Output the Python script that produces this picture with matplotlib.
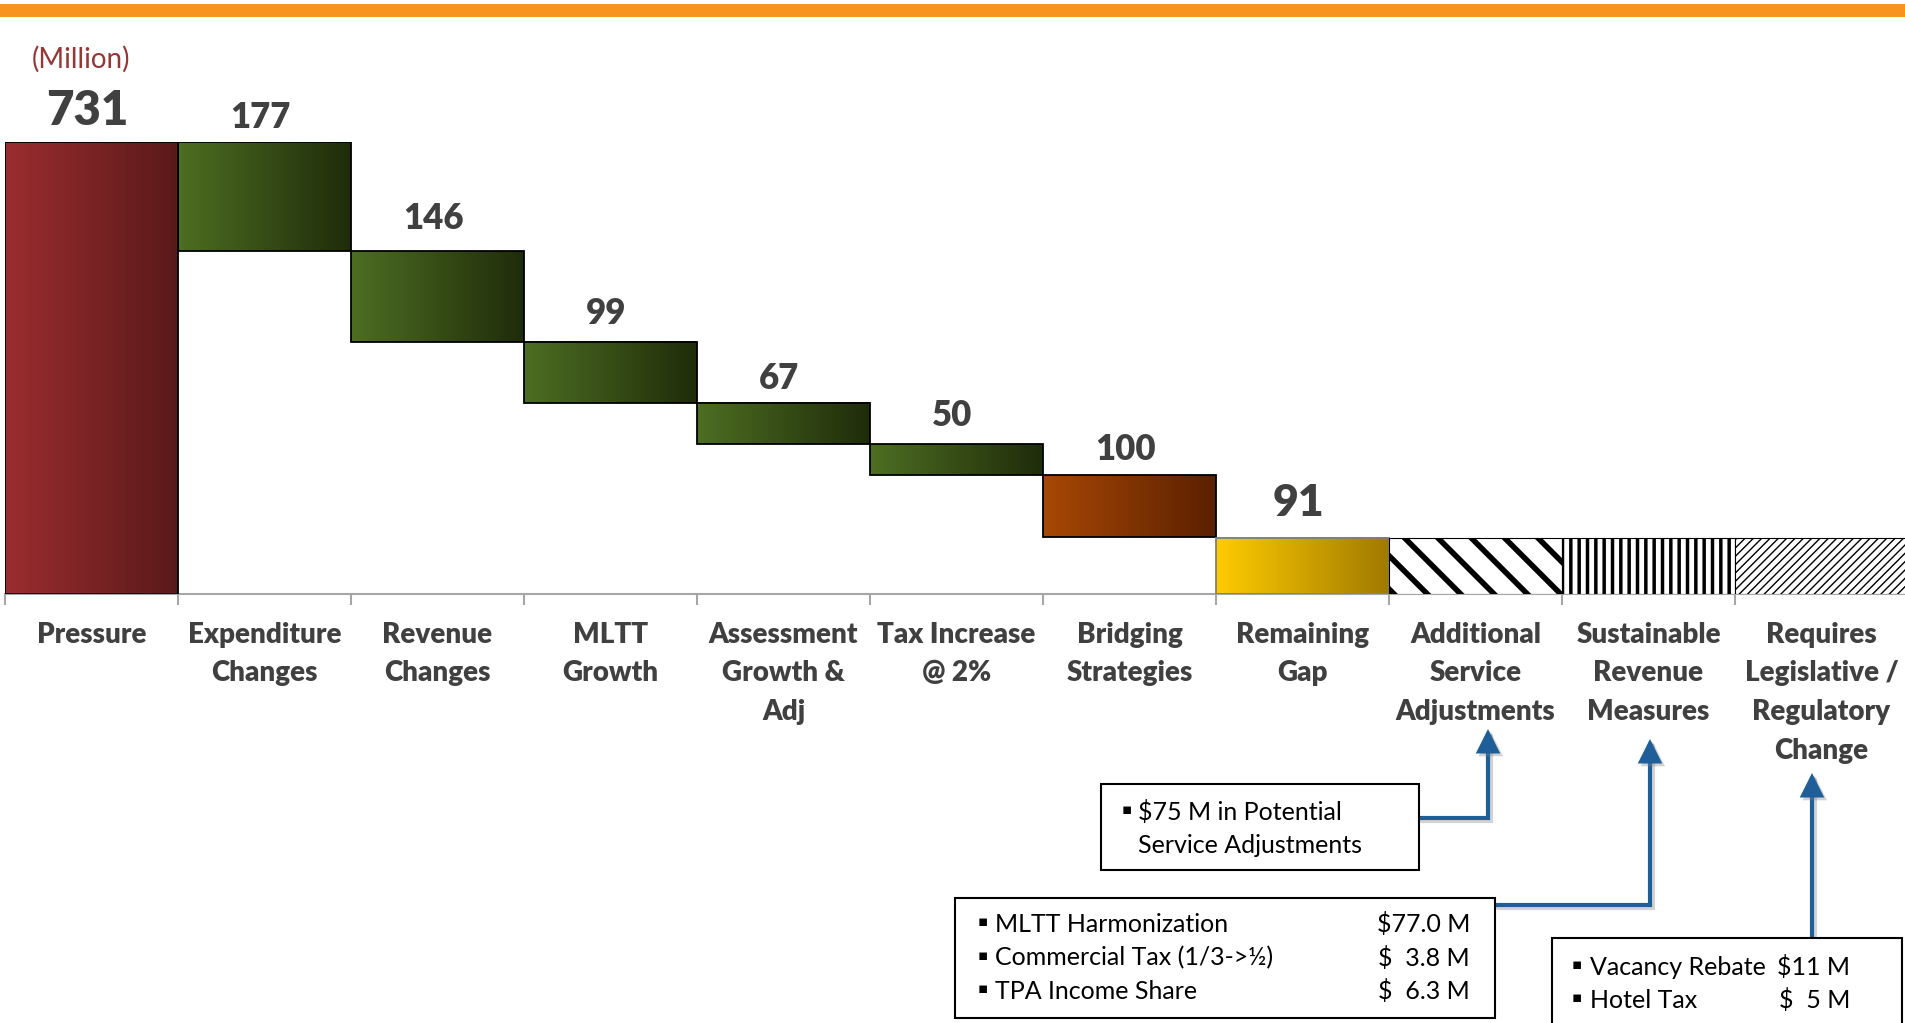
import numpy as np
import matplotlib
matplotlib.use('Agg')
import matplotlib.pyplot as plt
from matplotlib.colors import LinearSegmentedColormap
from matplotlib.patches import Rectangle, FancyArrowPatch
from matplotlib.path import Path
import matplotlib.patheffects as pe

plt.rcParams['font.family'] = ['Lato', 'DejaVu Sans']

# --- data ---
categories = ['Pressure', 'Expenditure\nChanges', 'Revenue\nChanges', 'MLTT\nGrowth',
              'Assessment\nGrowth &\nAdj', 'Tax Increase\n@ 2%', 'Bridging\nStrategies',
              'Remaining\nGap', 'Additional\nService\nAdjustments', 'Sustainable\nRevenue\nMeasures',
              'Requires\nLegislative /\nRegulatory\nChange']
steps = [731, 177, 146, 99, 67, 50, 100]   # pressure, then reductions
gap = 91                                    # remaining gap (also height of option bars)
n_options = 3

service_note = ['$75 M in Potential', 'Service Adjustments']
revenue_items = ['MLTT Harmonization', 'Commercial Tax (1/3->½)', 'TPA Income Share']
revenue_amounts = ['$77.0 M', '$  3.8 M', '$  6.3 M']
legis_items = ['Vacancy Rebate', 'Hotel Tax']
legis_amounts = ['$11 M', '$  5 M']

# --- styles ---
grads = [('#9B2D30', '#5A1919')] + [('#4E6E22', '#1F2C0A')] * 5 + [('#A84805', '#5A2000'),
                                                                 ('#FFCC00', '#A07A00')]
edge_cols = ['black'] * 7 + ['#7F7F7F']
label_sizes = [34, 25, 25, 25, 25, 25, 25, 32]
label_offs = [12.5, 10, 16, 12.5, 10, 13.5, 11, 16]
hatches = ['\\', '||', '////']
hatch_lws = [4.0, 2.5, 1.0]
txt = '#404040'

W, H = 1905, 1023
fig = plt.figure(figsize=(W / 100, H / 100), dpi=100)
fx = lambda x: x / W
fy = lambda y: 1 - y / H

# orange band at top
fig.add_artist(Rectangle((0, fy(17)), 1, 13 / H, transform=fig.transFigure,
                         color='#F7941D', lw=0))

ax = fig.add_axes([fx(5), fy(594), 1903 / W, 452 / H])

# waterfall bottoms
bottoms = [0]
level = steps[0]
for s in steps[1:]:
    level -= s
    bottoms.append(level)
heights = steps + [gap]
bottoms = bottoms + [0]
x = np.arange(len(categories))

bars = ax.bar(x[:8], heights, bottom=bottoms, width=1, facecolor='none',
              edgecolor=edge_cols, lw=1.3, zorder=3)
grad = np.linspace(0, 1, 256)[None, :]
for b, (c0, c1) in zip(bars, grads):
    x0, y0 = b.get_x(), b.get_y()
    cmap = LinearSegmentedColormap.from_list('g', [c0, c1])
    ax.imshow(grad, cmap=cmap, extent=(x0, x0 + b.get_width(), y0, y0 + b.get_height()),
              aspect='auto', zorder=2, interpolation='bilinear')

for b, v, fs, off in zip(bars, heights, label_sizes, label_offs):
    ax.annotate(str(v), (b.get_x() + 0.5, b.get_y() + b.get_height()), xytext=(-3, off),
                textcoords='offset points', ha='center', va='baseline', fontsize=fs,
                fontweight='heavy', color=txt, annotation_clip=False)

opt = ax.bar(x[8:], [gap] * n_options, width=1, facecolor='white', edgecolor='black',
             lw=0.8, zorder=3)
for p, h, lw in zip(opt, hatches, hatch_lws):
    p.set_hatch(h)
    if hasattr(p, 'set_hatch_linewidth'):
        p.set_hatch_linewidth(lw)

ax.set_xlim(-0.5, len(categories) - 0.5)
ax.set_ylim(0, steps[0])
for s in ['top', 'left', 'right']:
    ax.spines[s].set_visible(False)
ax.spines['bottom'].set_color('#A6A6A6')
ax.spines['bottom'].set_linewidth(1.5)
ax.set_yticks([])
ax.set_xticks(x)
ax.set_xticklabels(categories, fontsize=20, fontweight='heavy', color=txt)
ax.set_xticks(np.arange(-0.5, len(categories), 1), minor=True)
ax.tick_params(axis='x', which='major', length=0, pad=20)
ax.tick_params(axis='x', which='minor', length=8, width=1.5, color='#A6A6A6')
for t in ax.get_xticklabels():
    t.set_linespacing(1.6)
    t.set_multialignment('center')

fig.text(fx(81), fy(59), '(Million)', ha='center', va='center', fontsize=20, color='#953735')


# --- note boxes ---
def box(x0, y0, x1, y1):
    fig.add_artist(Rectangle((fx(x0), fy(y1)), fx(x1) - fx(x0), fy(y0) - fy(y1),
                             transform=fig.transFigure, facecolor='white',
                             edgecolor='black', lw=1.5, zorder=5))


def bullet(xb, yb):
    fig.text(fx(xb), fy(yb - 6), '▪', family='DejaVu Sans', fontsize=11, va='baseline',
             ha='left', zorder=6)


def line_text(xt, yb, s, ha='left'):
    fig.text(fx(xt), fy(yb), s, fontsize=18, va='baseline', ha=ha, zorder=6)


box(1101, 784, 1419, 870)
bullet(1121.5, 820)
line_text(1138, 820, service_note[0])
line_text(1138, 853, service_note[1])

box(955, 898, 1495, 1018)
for i, (item, amt) in enumerate(zip(revenue_items, revenue_amounts)):
    yb = 932 + i * 33.7
    bullet(977.5, yb)
    line_text(995, yb, item)
    line_text(1470, yb, amt, ha='right')

box(1552, 938, 1902, 1040)
for i, (item, amt) in enumerate(zip(legis_items, legis_amounts)):
    yb = 975 + i * 33
    bullet(1571.5, yb)
    line_text(1590, yb, item)
    line_text(1850, yb, amt, ha='right')


def arrow(pts):
    verts = [(fx(a), fy(b)) for a, b in pts]
    path = Path(verts, [Path.MOVETO] + [Path.LINETO] * (len(verts) - 1))
    fig.add_artist(FancyArrowPatch(path=path, arrowstyle='-|>,head_length=0.8,head_width=0.4',
                                   mutation_scale=16, color='#1F5F99', lw=3,
                                   joinstyle='miter', transform=fig.transFigure, zorder=4,
                                   path_effects=[pe.SimpleLineShadow(offset=(2, -2),
                                                                     shadow_color='#7F7F7F',
                                                                     alpha=0.35),
                                                 pe.Normal()]))


arrow([(1419, 818), (1488, 818), (1488, 729)])
arrow([(1495, 905), (1650, 905), (1650, 739)])
arrow([(1812, 938), (1812, 773)])

fig.savefig('out.png', dpi=100)
